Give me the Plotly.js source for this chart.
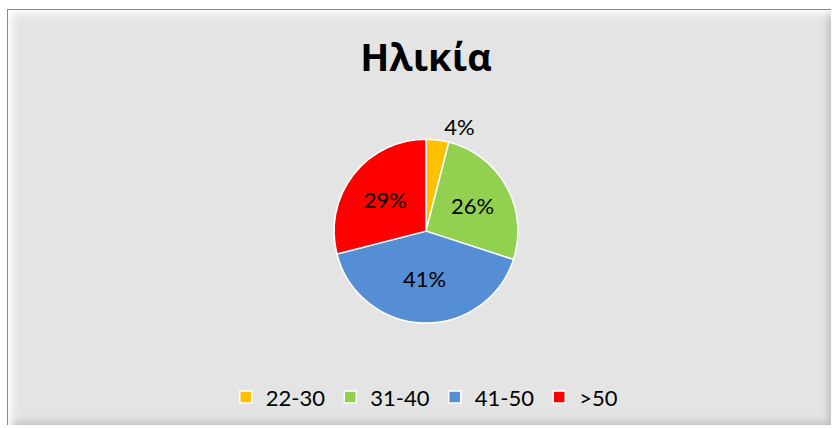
<!DOCTYPE html>
<html><head><meta charset="utf-8">
<script src="https://cdn.plot.ly/plotly-3.0.1.min.js"></script>
<style>
html,body{margin:0;padding:0;background:#ffffff;width:832px;height:428px;overflow:hidden;}
#frame{position:absolute;left:7px;top:9px;width:824px;height:416px;background:#e4e4e4;
 border-left:1px solid #8a8a8a;border-top:1px solid #8a8a8a;box-sizing:border-box;
 box-shadow:inset 8px 8px 8px -4px #ffffff, inset -6px -6px 8px -4px #b8b8b8;}
#chart{position:absolute;left:0;top:0;width:832px;height:428px;}
</style></head>
<body><div id="frame"></div><div id="chart"></div>
<script>
const categories = ['22-30','31-40','41-50','>50'];
const values = [4, 26, 41, 29];
const colors = ['#FFC000','#92D050','#558ED5','#FF0000'];
const positions = ['outside','inside','inside','inside'];
const titleText = 'Ηλικία';

const data = [{
  type:'pie', labels:categories, values:values, sort:false, direction:'clockwise', rotation:0,
  marker:{colors:colors, line:{color:'#ffffff', width:1.5}},
  textinfo:'percent', textposition:positions,
  insidetextorientation:'horizontal',
  textfont:{family:'Lato, sans-serif', size:22, color:'#000000'},
  hoverinfo:'none',
  domain:{x:[0.4015,0.6226], y:[0.245,0.675]}
}];
const layout = {
  width:832, height:428, margin:{l:0,r:0,t:0,b:0},
  paper_bgcolor:'rgba(0,0,0,0)', plot_bgcolor:'rgba(0,0,0,0)',
  uniformtext:{mode:'show', minsize:22},
  title:{text:'<b>'+titleText+'</b>', x:0.512, xanchor:'center', y:0.865, yanchor:'middle',
    font:{family:'Open Sans, sans-serif', size:38, color:'#000000'}},
  showlegend:true,
  legend:{orientation:'h', x:0.51, xanchor:'center', y:0.072, yanchor:'middle',
    font:{family:'Lato, sans-serif', size:22, color:'#000000'}, traceorder:'normal',
    itemwidth:30, bgcolor:'rgba(0,0,0,0)'}
};
Plotly.newPlot('chart', data, layout, {staticPlot:true});
</script></body></html>
